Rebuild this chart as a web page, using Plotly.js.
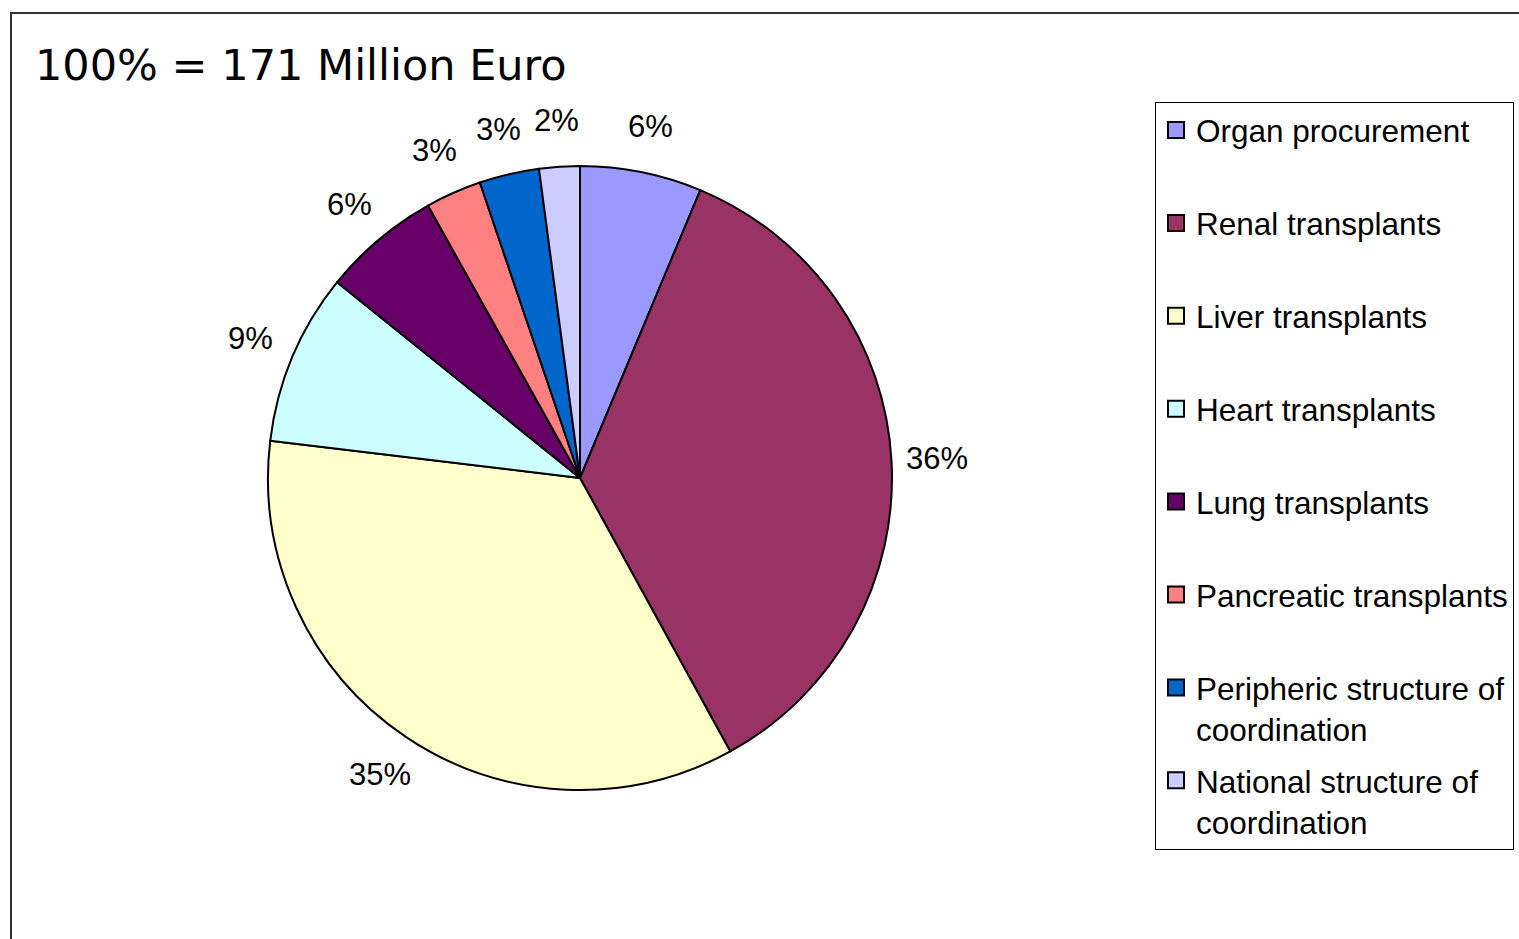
<!DOCTYPE html>
<html>
<head>
<meta charset="utf-8">
<script src="https://cdn.plot.ly/plotly-3.0.1.min.js"></script>
<style>
html,body{margin:0;padding:0;background:#fff;overflow:hidden;}
#chart{width:1519px;height:939px;}
</style>
</head>
<body>
<div id="chart"></div>
<script>
// Data (percent shares; total = 171 Million Euro)
var categories = [
  "Organ procurement",
  "Renal transplants",
  "Liver transplants",
  "Heart transplants",
  "Lung transplants",
  "Pancreatic transplants",
  "Peripheric structure of coordination",
  "National structure of coordination"
];
var legendLabels = [
  "Organ procurement<br> ",
  "Renal transplants<br> ",
  "Liver transplants<br> ",
  "Heart transplants<br> ",
  "Lung transplants<br> ",
  "Pancreatic transplants<br> ",
  "Peripheric structure of<br>coordination",
  "National structure of<br>coordination"
];
var shares = [6.3, 35.7, 34.9, 8.9, 6.1, 2.9, 3.1, 2.1];
var sliceColors = ["#9999FF", "#993366", "#FFFFCC", "#CCFFFF", "#660066", "#FF8080", "#0066CC", "#CCCCFF"];
var titleText = "100% = 171 Million Euro";

var W = 1519, H = 939;
var cx = 580, cy = 478, R = 312;
var labelR = 358;

var traces = [{
  type: "pie",
  labels: categories,
  values: shares,
  sort: false,
  direction: "clockwise",
  rotation: 0,
  marker: {colors: sliceColors, line: {color: "#000000", width: 2}},
  textinfo: "none",
  showlegend: false,
  hoverinfo: "label+percent",
  domain: {x: [(cx - R) / W, (cx + R) / W], y: [1 - (cy + R) / H, 1 - (cy - R) / H]}
}];

categories.forEach(function (c, i) {
  traces.push({
    type: "scatter",
    mode: "markers",
    x: [null], y: [null],
    name: legendLabels[i],
    legendgroup: "g" + i,
    showlegend: true,
    hoverinfo: "skip",
    marker: {symbol: "square", size: 16, color: sliceColors[i], line: {color: "#000000", width: 2}}
  });
});

// Percent labels placed radially outside each slice, derived from the data
var total = shares.reduce(function (a, b) { return a + b; }, 0);
var annotations = [];
var cum = 0;
shares.forEach(function (v) {
  var mid = (cum + v / 2) / total * 2 * Math.PI;
  cum += v;
  var px = cx + labelR * Math.sin(mid);
  var py = cy - labelR * Math.cos(mid);
  annotations.push({
    xref: "paper", yref: "paper",
    x: px / W, y: 1 - py / H,
    xanchor: "center", yanchor: "middle",
    showarrow: false,
    text: Math.round(v / total * 100) + "%",
    font: {family: "Liberation Sans, Arial, sans-serif", size: 31, color: "#000000"}
  });
});

var layout = {
  width: W, height: H,
  margin: {l: 0, r: 0, t: 0, b: 0, pad: 0},
  paper_bgcolor: "#ffffff",
  plot_bgcolor: "rgba(0,0,0,0)",
  xaxis: {visible: false},
  yaxis: {visible: false},
  title: {
    text: titleText,
    font: {family: "DejaVu Sans, Verdana, sans-serif", size: 43, color: "#000000"},
    x: 35 / W, xref: "container", xanchor: "left",
    y: 1 - 65 / H, yref: "container", yanchor: "middle"
  },
  showlegend: true,
  legend: {
    x: 1155 / W, y: 1 - 102 / H, xanchor: "left", yanchor: "top",
    bordercolor: "#000000", borderwidth: 1, bgcolor: "#ffffff",
    font: {family: "Liberation Sans, Arial, sans-serif", size: 31.5, color: "#000000"},
    tracegroupgap: 8,
    valign: "top",
    traceorder: "grouped"
  },
  annotations: annotations,
  shapes: [{
    type: "rect", xref: "paper", yref: "paper",
    x0: 11 / W, x1: 1.05, y0: -0.05, y1: 1 - 13 / H,
    line: {color: "#333333", width: 2}, fillcolor: "rgba(0,0,0,0)", layer: "below"
  }]
};

Plotly.newPlot("chart", traces, layout, {displayModeBar: false, staticPlot: true});
</script>
</body>
</html>
